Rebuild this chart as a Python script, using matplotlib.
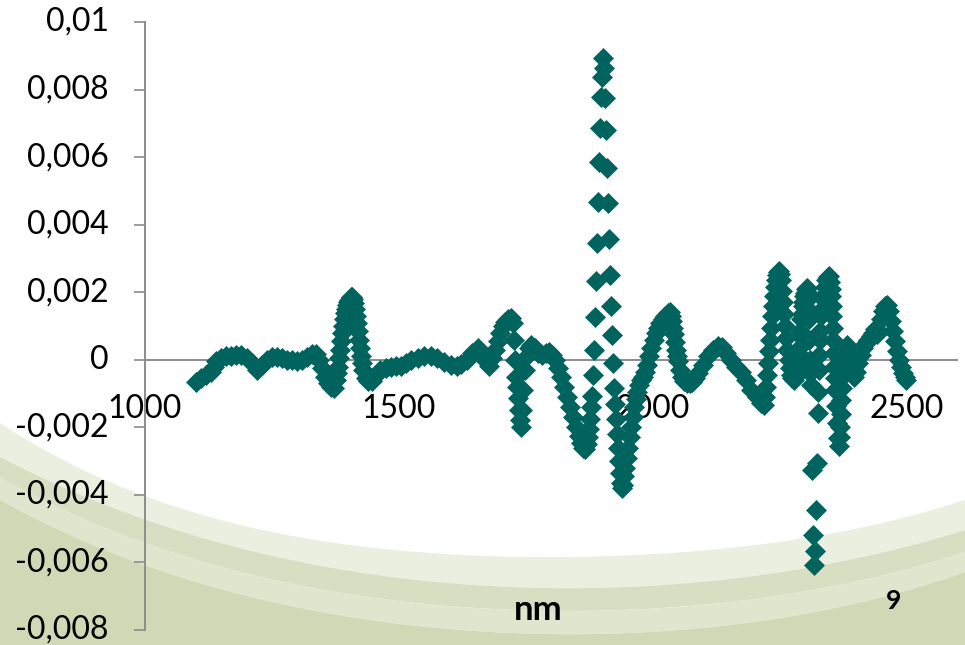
import numpy as np
import matplotlib
matplotlib.use("Agg")
import matplotlib.pyplot as plt
from matplotlib.ticker import FixedLocator, MultipleLocator, FuncFormatter

# Second-derivative NIR spectrum (values in units of 1e-3), one row per band region
wavelength_nm = [
    1100, 1110, 1120, 1130, 1135, 1140, 1150, 1160, 1170, 1180, 1190, 1200,
    1210, 1220, 1230, 1240, 1250, 1260, 1270, 1280, 1290, 1300, 1310, 1320,
    1330, 1336, 1342, 1348, 1354, 1360, 1366, 1372, 1376, 1378, 1380, 1382,
    1384, 1386, 1388, 1390, 1392, 1394, 1396, 1398, 1400, 1402, 1405, 1407,
    1410, 1412, 1414, 1416, 1418, 1420, 1422, 1424, 1426, 1428, 1430, 1435,
    1440, 1448, 1455, 1464, 1475, 1485, 1495, 1504, 1515, 1525, 1537, 1550,
    1563, 1575, 1590, 1603, 1615, 1623, 1635, 1645, 1656, 1665, 1672, 1678,
    1684, 1690, 1695, 1700, 1705, 1710, 1715, 1721, 1725, 1727, 1729, 1731,
    1733, 1735, 1737, 1739, 1741, 1743, 1745, 1748, 1752, 1756, 1761, 1768,
    1775, 1782, 1790, 1796, 1802, 1808, 1814, 1820, 1826, 1832, 1838, 1844,
    1850, 1855, 1860, 1864, 1867, 1870, 1872, 1874, 1876, 1878, 1880, 1882,
    1884, 1886, 1888, 1890, 1892, 1894, 1896, 1898, 1900, 1902, 1904, 1906,
    1908, 1910, 1912, 1914, 1916, 1918, 1920, 1922, 1924, 1926, 1928, 1930,
    1932, 1934, 1936, 1938, 1940, 1942, 1944, 1946, 1949, 1952, 1955, 1958,
    1961, 1964, 1967, 1970, 1974, 1978, 1982, 1986, 1990, 1994, 1998, 2002,
    2006, 2010, 2015, 2020, 2025, 2030, 2034, 2036, 2038, 2040, 2042, 2044,
    2046, 2048, 2050, 2054, 2058, 2063, 2068, 2073, 2078, 2084, 2090, 2100,
    2110, 2120, 2130, 2137, 2145, 2155, 2165, 2175, 2185, 2195, 2205, 2213,
    2219, 2222, 2224, 2226, 2228, 2230, 2232, 2234, 2236, 2238, 2240, 2242,
    2244, 2246, 2248, 2250, 2252, 2254, 2256, 2258, 2260, 2262, 2264, 2266,
    2268, 2270, 2272, 2275, 2278, 2281, 2284, 2285, 2287, 2288, 2290, 2291,
    2293, 2294, 2296, 2297, 2299, 2300, 2302, 2304, 2305, 2306, 2307, 2308,
    2309, 2310, 2311, 2312, 2314, 2316, 2318, 2320, 2322, 2324, 2326, 2327,
    2328, 2329, 2330, 2331, 2333, 2334, 2336, 2337, 2339, 2342, 2345, 2348,
    2350, 2351, 2352, 2353, 2354, 2355, 2356, 2357, 2358, 2359, 2360, 2362,
    2364, 2366, 2368, 2369, 2370, 2371, 2372, 2373, 2374, 2375, 2377, 2380,
    2383, 2386, 2390, 2394, 2397, 2400, 2405, 2410, 2415, 2420, 2425, 2430,
    2435, 2439, 2443, 2447, 2451, 2455, 2459, 2462, 2466, 2470, 2474, 2478,
    2482, 2486, 2490, 2494, 2497, 2500,
]
deriv_e3 = [
    -0.65, -0.55, -0.45, -0.35, -0.2, -0.05, 0.05, 0.1, 0.12, 0.15, 0.15, 0.05,
    -0.1, -0.3, -0.15, 0.0, 0.07, 0.08, 0.05, 0.0, -0.02, -0.03, 0.0, 0.08,
    0.18, 0.18, 0.0, -0.25, -0.5, -0.7, -0.8, -0.83, -0.6, -0.4, -0.2, 0.05,
    0.3, 0.55, 0.8, 1.0, 1.2, 1.38, 1.5, 1.62, 1.7, 1.78, 1.85, 1.85,
    1.8, 1.68, 1.5, 1.3, 1.1, 0.85, 0.6, 0.35, 0.1, -0.1, -0.3, -0.55,
    -0.64, -0.64, -0.45, -0.3, -0.25, -0.2, -0.18, -0.17, -0.1, -0.02, 0.06, 0.1,
    0.12, 0.05, -0.08, -0.15, -0.17, -0.12, 0.0, 0.2, 0.35, 0.15, -0.05, -0.17,
    0.05, 0.3, 0.55, 0.8, 1.0, 1.12, 1.2, 1.24, 1.1, 0.6, 0.0, -0.5,
    -0.8, -1.12, -1.48, -1.78, -2.0, -1.5, -0.9, -0.3, 0.1, 0.35, 0.45, 0.35,
    0.2, 0.15, 0.2, 0.24, 0.15, 0.0, -0.25, -0.5, -0.8, -1.1, -1.4, -1.7,
    -2.0, -2.25, -2.45, -2.6, -2.65, -2.5, -2.3, -2.05, -1.75, -1.4, -1.08, -0.44,
    0.30, 1.28, 2.32, 3.45, 4.68, 5.87, 6.85, 7.79, 8.38, 8.93, 8.63, 7.74,
    6.80, 5.67, 4.64, 3.57, 2.51, 1.58, 0.74, -0.10, -0.84, -1.3, -1.75, -2.2,
    -2.6, -3.0, -3.35, -3.65, -3.8, -3.7, -3.45, -3.2, -2.9, -2.6, -2.3, -2.0,
    -1.7, -1.4, -1.15, -0.95, -0.75, -0.6, -0.5, -0.35, -0.15, 0.1, 0.35, 0.6,
    0.8, 0.95, 1.1, 1.22, 1.3, 1.38, 1.4, 1.3, 1.15, 0.95, 0.75, 0.52,
    0.3, 0.12, -0.05, -0.3, -0.5, -0.62, -0.7, -0.7, -0.65, -0.55, -0.4, -0.15,
    0.1, 0.3, 0.42, 0.38, 0.2, 0.0, -0.2, -0.35, -0.6, -0.9, -1.1, -1.28,
    -1.35, -1.1, -0.8, -0.45, -0.1, 0.25, 0.6, 0.95, 1.3, 1.6, 1.9, 2.15,
    2.35, 2.5, 2.6, 2.63, 2.55, 2.35, 2.05, 1.7, 1.35, 1.0, 0.65, 0.3,
    0.0, -0.25, -0.45, -0.55, -0.6, -0.5, -0.2, 0.0, 0.2, 0.35, 0.7, 0.85,
    1.2, 1.35, 1.6, 1.72, 1.9, 1.98, 2.1, 2.13, 2.0, 1.8, 1.5, 1.2,
    0.6, 0.0, -0.4, -0.74, -3.25, -5.18, -6.07, -5.67, -4.44, -3.06, -1.58, -0.95,
    -0.3, 0.15, 0.6, 0.85, 1.3, 1.5, 1.8, 1.92, 2.15, 2.35, 2.45, 2.48,
    2.3, 2.1, 1.9, 1.6, 1.3, 0.95, 0.6, 0.2, -0.2, -0.55, -0.9, -1.38,
    -1.87, -2.32, -2.56, -2.3, -2.0, -1.6, -1.2, -0.85, -0.5, -0.3, 0.0, 0.3,
    0.45, 0.3, -0.1, -0.4, -0.5, -0.35, -0.1, 0.15, 0.35, 0.5, 0.6, 0.7,
    0.8, 0.9, 0.75, 0.85, 1.2, 1.45, 1.6, 1.63, 1.45, 1.15, 0.85, 0.55,
    0.25, 0.0, -0.2, -0.38, -0.5, -0.6,
]
x_ticks = [1000, 1500, 2000, 2500]
x_label = "nm"
slide_number = "9"

values = np.array(deriv_e3) * 1e-3

FONT = "Lato"
TEAL = "#00635E"
AXIS_GREY = "#8C8C8C"

fig = plt.figure(figsize=(9.65, 6.45), dpi=100)

# Decorative slide background: curved green bands along the bottom
bg = fig.add_axes([0, 0, 1, 1], zorder=0)
bg.set_xlim(0, 965)
bg.set_ylim(645, 0)
bg.axis("off")
xs = np.linspace(0, 965, 400)


def band_edge(px, py):
    coef = np.polyfit(px, py, 4)
    return np.polyval(coef, xs)


edges = [
    band_edge([0, 185, 369, 535, 677, 862, 965], [423, 510, 547, 557, 553, 527, 500]),
    band_edge([0, 185, 369, 554, 750, 965], [457, 532, 575, 587, 577, 530]),
    band_edge([0, 185, 369, 554, 750, 965], [478, 556, 598, 610, 600, 552]),
    band_edge([0, 185, 369, 554, 750, 965], [500, 578, 621, 633, 623, 572]),
]
band_colors = ["#EBEFDF", "#D7DEC1", "#E0E5CD", "#D1D8B5"]
bottoms = edges[1:] + [np.full_like(xs, 660)]
for top, bot, col in zip(edges, bottoms, band_colors):
    bg.fill_between(xs, top, bot, color=col, lw=0)

# Main chart
ax = fig.add_axes([145 / 965, 1 - 630 / 645, (957 - 145) / 965, (630 - 22) / 645], zorder=1)
ax.patch.set_alpha(0)

ax.plot(wavelength_nm, values, linestyle="none", marker="D", markersize=10.5,
        color=TEAL, markeredgecolor=TEAL, markeredgewidth=0.5, zorder=3)

ax.set_xlim(1000, 2600)
ax.set_ylim(-0.008, 0.01)

for side in ("top", "right"):
    ax.spines[side].set_visible(False)
ax.spines["bottom"].set_position(("data", 0))
for side in ("left", "bottom"):
    ax.spines[side].set_color(AXIS_GREY)
    ax.spines[side].set_linewidth(1.4)

ax.xaxis.set_major_locator(FixedLocator(x_ticks))
ax.yaxis.set_major_locator(MultipleLocator(0.002))


def comma_fmt(v, _pos):
    if abs(v) < 1e-12:
        return "0"
    s = f"{v:.3f}".rstrip("0").rstrip(".")
    return s.replace(".", ",")


ax.yaxis.set_major_formatter(FuncFormatter(comma_fmt))
ax.xaxis.set_major_formatter(FuncFormatter(lambda v, p: f"{int(v)}"))

ax.tick_params(axis="x", length=0, pad=25, labelsize=23, labelcolor="black")
ax.tick_params(axis="y", direction="out", length=8, width=1.2, color=AXIS_GREY,
               pad=18, labelsize=23, labelcolor="black")
for lab in ax.get_xticklabels():
    lab.set_fontfamily(FONT)
for lab in ax.get_yticklabels():
    lab.set_fontfamily(FONT)
    lab.set_verticalalignment("center")

fig.text(538 / 965, 1 - 610 / 645, x_label, ha="center", va="center",
         fontsize=25, fontweight="bold", family=FONT)
fig.text(894 / 965, 1 - 601 / 645, slide_number, ha="center", va="center",
         fontsize=19, fontweight="bold", family=FONT)

fig.savefig("out.png", dpi=100)
